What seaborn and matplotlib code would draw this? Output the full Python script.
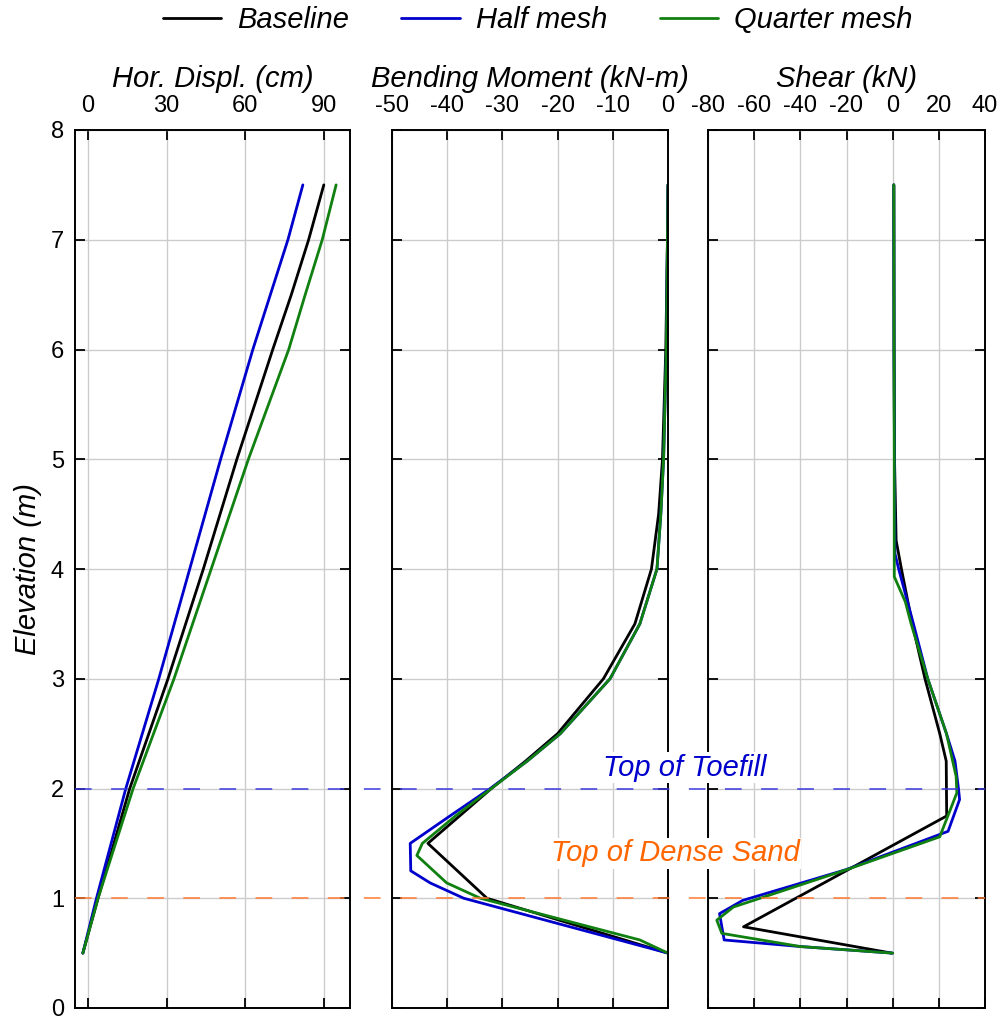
import pandas as pd
import numpy as np
import matplotlib
import matplotlib.pyplot as plt
import seaborn as sns
from matplotlib.lines import Line2D
from matplotlib.transforms import blended_transform_factory

# casos y colores
casos = ['Baseline', 'Half mesh', 'Quarter mesh']
colores = {'Baseline': 'black', 'Half mesh': '#0000cc', 'Quarter mesh': '#108010'}

# desplazamiento horizontal (cm)
elev_disp = [0.5, 1, 2, 3, 4, 5, 6, 6.5, 7, 7.5]
disp_base = [-2, 3.8, 15.9, 30.5, 44.0, 56.8, 70.5, 77.6, 84.2, 90.0]
disp_half = [-2, 3.2, 14.4, 27.0, 38.8, 50.6, 62.9, 69.6, 76.3, 82.0]
disp_quarter = [-2, 3.8, 17.2, 32.8, 47.0, 61.2, 76.6, 82.9, 89.4, 94.7]

# momento flector (kN-m)
elev_mom_base = [7.5, 7, 6, 5, 4.5, 4, 3.5, 3, 2.5, 2.25, 2, 1.5, 1.0, 0.5]
mom_base = [0, -0.1, -0.4, -1.0, -1.7, -3.0, -6.0, -11.7, -20.0, -25.8, -32.0, -43.5, -32.8, 0]
elev_mom_half = [7.5, 7, 6, 5, 4.5, 4, 3.5, 3, 2.5, 2.25, 2, 1.75, 1.5, 1.25, 1.14, 1.0, 0.5]
mom_half = [0, -0.1, -0.3, -0.8, -1.3, -2.0, -5.1, -10.5, -19.5, -25.5, -32.2, -39.5, -46.7, -46.6, -43.1, -37.0, 0]
elev_mom_quarter = [7.5, 7, 6, 5, 4.5, 4, 3.5, 3, 2.5, 2.25, 2, 1.75, 1.5, 1.39, 1.14, 1.0, 0.62, 0.5]
mom_quarter = [0, -0.1, -0.3, -0.8, -1.3, -2.0, -5.1, -10.5, -19.5, -25.5, -32.0, -38.5, -44.5, -45.5, -40.1, -34.0, -5.1, 0]

# cortante (kN)
elev_cor_base = [7.5, 6, 5, 4.26, 4.0, 3.5, 3.0, 2.5, 2.25, 1.75, 0.74, 0.5]
cor_base = [0.5, 0.6, 0.8, 1.5, 3.8, 8.5, 14.0, 20.4, 23.2, 23.4, -64.6, -0.3]
elev_cor_half = [7.5, 6, 5, 4.14, 4.0, 3.5, 3.0, 2.5, 2.25, 2.0, 1.9, 1.61, 1.26, 0.98, 0.86, 0.62, 0.56, 0.5]
cor_half = [0.5, 0.6, 0.8, 1.0, 2.6, 9.0, 15.2, 23.3, 27.0, 28.5, 29.0, 24.0, -20.3, -65.0, -75.0, -73.0, -40.0, 0]
elev_cor_quarter = [7.5, 6, 5, 4.25, 3.93, 3.70, 3.5, 3.0, 2.5, 2.11, 1.96, 1.56, 1.26, 0.92, 0.80, 0.68, 0.56, 0.5]
cor_quarter = [0.5, 0.6, 0.7, 0.7, 0.7, 5.5, 8.0, 15.2, 23.3, 27.5, 27.8, 20.4, -20.0, -69.0, -76.2, -74.0, -40.0, 0]


def armar(elevs, vals):
    partes = []
    for caso, e, v in zip(casos, elevs, vals):
        partes.append(pd.DataFrame({'elev': e, 'val': v, 'caso': caso}))
    return pd.concat(partes, ignore_index=True)


df_disp = armar([elev_disp] * 3, [disp_base, disp_half, disp_quarter])
df_mom = armar([elev_mom_base, elev_mom_half, elev_mom_quarter], [mom_base, mom_half, mom_quarter])
df_cor = armar([elev_cor_base, elev_cor_half, elev_cor_quarter], [cor_base, cor_half, cor_quarter])

sns.set_theme(style='ticks')
plt.rcParams['font.family'] = ['Liberation Sans', 'DejaVu Sans']
plt.rcParams['lines.scale_dashes'] = False
plt.rcParams['axes.unicode_minus'] = False
for k in ['text.color', 'axes.labelcolor', 'xtick.color', 'ytick.color']:
    plt.rcParams[k] = 'black'

fig = plt.figure(figsize=(10.01, 10.17), dpi=100)
W, H = 1001, 1017
top, bot = 130, 1008
paneles = [(75, 350), (392, 668), (708, 985)]
axes = [fig.add_axes([x0 / W, 1 - bot / H, (x1 - x0) / W, (bot - top) / H]) for x0, x1 in paneles]

datos = [df_disp, df_mom, df_cor]
titulos = ['Hor. Displ. (cm)', 'Bending Moment (kN-m)', 'Shear (kN)']
limites = [(-5, 100), (-50, 0), (-80, 40)]
marcas = [[0, 30, 60, 90], list(range(-50, 1, 10)), list(range(-80, 41, 20))]

for i, ax in enumerate(axes):
    sns.lineplot(data=datos[i], x='val', y='elev', hue='caso', hue_order=casos,
                 palette=colores, sort=False, estimator=None, lw=2.0, ax=ax,
                 legend=(i == 0))
    ax.set_xlim(*limites[i])
    ax.set_ylim(0, 8)
    ax.set_xticks(marcas[i])
    ax.set_yticks(range(0, 9))
    ax.grid(True, color='#cccccc', lw=1.0)
    ax.xaxis.set_label_position('top')
    ax.set_xlabel(titulos[i], fontsize=21, fontstyle='italic', labelpad=6)
    ax.tick_params(axis='x', direction='in', top=True, bottom=True, labeltop=True,
                   labelbottom=False, length=7, width=1.3, labelsize=17, pad=9)
    ax.tick_params(axis='y', direction='in', left=True, right=True, labelleft=(i == 0),
                   length=7, width=1.3, labelsize=17, pad=8)
    for s in ax.spines.values():
        s.set_linewidth(1.4)
        s.set_color('black')
    if i == 0:
        ax.set_ylabel('Elevation (m)', fontsize=21, fontstyle='italic', labelpad=6)
    else:
        ax.set_ylabel('')

handles, labels = axes[0].get_legend_handles_labels()
axes[0].get_legend().remove()
fig.legend(handles, labels, loc='center', bbox_to_anchor=(0.537, 0.980), ncol=3,
           frameon=False, prop={'style': 'italic', 'size': 21},
           handlelength=2.0, handletextpad=0.55, columnspacing=1.8)

# lineas de referencia que cruzan los tres paneles
tr = blended_transform_factory(fig.transFigure, axes[0].transData)
x_ini, x_fin = 75 / W, 985 / W
fig.add_artist(Line2D([x_ini, x_fin], [2, 2], transform=tr, color='#3a3ae0',
                      lw=1.1, ls=(0, (12, 14)), zorder=3))
fig.add_artist(Line2D([x_ini, x_fin], [1, 1], transform=tr, color='#ff7a30',
                      lw=1.1, ls=(0, (12, 14)), zorder=3))
fig.text(685 / W, 2.19, 'Top of Toefill', transform=tr, color='#0000cc', fontsize=21,
         fontstyle='italic', ha='center', va='center', zorder=5,
         bbox=dict(facecolor='white', edgecolor='none', pad=1))
fig.text(675 / W, 1.41, 'Top of Dense Sand', transform=tr, color='#ff6600', fontsize=21,
         fontstyle='italic', ha='center', va='center', zorder=5,
         bbox=dict(facecolor='white', edgecolor='none', pad=1))

plt.savefig('out.png', dpi=100)
